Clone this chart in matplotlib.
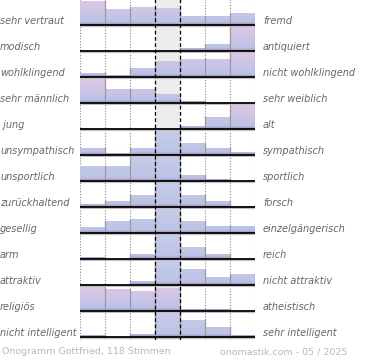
import numpy as np
import matplotlib.pyplot as plt
from matplotlib.patches import Polygon
from matplotlib.colors import to_rgb

# ---- Daten (Anteil der Stimmen je Spalte, in %) ----
left_labels = ["sehr vertraut", "modisch", "wohlklingend", "sehr männlich", " jung",
               "unsympathisch", "unsportlich", "zurückhaltend", "gesellig", "arm",
               "attraktiv", "religiös", "nicht intelligent"]
right_labels = ["fremd", "antiquiert", "nicht wohlklingend", "sehr weiblich", "alt",
                "sympathisch", "sportlich", "forsch", "einzelgängerisch", "reich",
                "nicht attraktiv", "atheistisch", "sehr intelligent"]
shares = [
    [25, 16, 18, 17, 9, 9, 12],
    [0, 0, 0.5, 0.5, 3, 7, 89],
    [4, 2, 9, 16, 18, 18, 33],
    [58, 14, 14, 9, 2, 0.5, 0],
    [0, 0, 0.5, 0, 3, 12, 84],
    [7.5, 2, 7.5, 60, 12, 7.5, 3.5],
    [15, 15, 30, 31, 6.5, 2, 0],
    [3.5, 6, 12.5, 58, 12.5, 6, 1.5],
    [6, 12.5, 14.5, 41, 12.5, 7, 7],
    [2.5, 0, 5, 75, 12, 5, 0],
    [0, 0, 4.5, 60, 16, 8.5, 11],
    [24.5, 22.5, 20.5, 23, 2.5, 2.5, 0],
    [2, 0, 3.5, 64, 17.5, 10.5, 2.5],
]
footer_left = "Onogramm Gottfried, 118 Stimmen"
footer_right = "onomastik.com - 05 / 2025"

CAP = 24.0          # Wert, der die volle Zeilenhöhe füllt
FULL = 24 / 26      # Anteil der Zeilenhöhe für den höchsten Balken
N_COLS = 7
Y_MAX = 13.12

c_strip = np.array(to_rgb("#a89bc8"))
c_bottom = np.array(to_rgb("#bcc3e5"))
c_pink = np.array(to_rgb("#ddc6e6"))
c_blue = np.array(to_rgb("#c6cce9"))


def gradient(top_color, n=96):
    t = np.linspace(1, 0, n)  # oben -> unten
    img = np.zeros((n, 1, 3))
    for k, tk in enumerate(t):
        if tk < 0.05:
            img[k, 0] = c_strip
        elif tk < 0.12:
            a = (tk - 0.05) / 0.07
            img[k, 0] = c_strip * (1 - a) + c_bottom * a
        else:
            a = (tk - 0.12) / 0.88
            img[k, 0] = c_bottom * (1 - a) + top_color * a
    return img


fig = plt.figure(figsize=(3.7, 3.6), dpi=100)
fig.patch.set_facecolor("white")
ax = fig.add_axes([80 / 370, (360 - (Y_MAX * 26 - 1)) / 360, 175 / 370, Y_MAX * 26 / 360])
ax.axis("off")

# neutrale Mittelspalte
ax.fill_between([3, 4], 0, Y_MAX, color="#ececec", lw=0, zorder=0)

# gepunktete Raster
for x in [0, 1, 2, 5, 6, 7]:
    ax.plot([x, x], [0, Y_MAX], color="#8a8a8a", lw=0.8, ls=(0, (1, 1.5)), zorder=1)

for i, vals in enumerate(shares):
    vals = np.array(vals, dtype=float)
    base = i + 1
    fr = np.minimum(vals, CAP) / CAP * FULL
    tops = base - fr

    verts = [(0, base)]
    for j in range(N_COLS):
        verts += [(j, tops[j]), (j + 1, tops[j])]
    verts.append((N_COLS, base))
    poly = Polygon(verts, closed=True, transform=ax.transData)

    pink_row = int(np.argmax(vals)) != 3
    img = gradient(c_pink if pink_row else c_blue)
    im = ax.imshow(img, extent=(0, N_COLS, base, base - FULL), aspect="auto",
                   origin="upper", interpolation="bilinear", zorder=2)
    im.set_clip_path(poly)

    # Trennkanten der Balken
    for j in range(1, N_COLS + 1):
        h = max(fr[j - 1], fr[j] if j < N_COLS else 0)
        if h > 0.02:
            ax.plot([j, j], [base, base - h], color="#9a9a9a", lw=0.9, zorder=3)

    ax.plot([0, N_COLS], [base + 0.05, base + 0.05], color="#c0c0c0", lw=0.8, zorder=4)
    ax.plot([0, N_COLS], [base, base], color="black", lw=1.3, zorder=5)

    ax.text(-80 / 25, base - 4.5 / 26, left_labels[i], ha="left", va="center",
            fontsize=7, style="italic", color="#666666")
    ax.text((263 - 80) / 25, base - 4.5 / 26, right_labels[i], ha="left", va="center",
            fontsize=7, style="italic", color="#666666")

# gestrichelte Linien um die Mitte
for x in [3, 4]:
    ax.plot([x, x], [0, Y_MAX], color="black", lw=0.9, ls=(0, (3, 2)), zorder=6)

ax.set_xlim(0, N_COLS)
ax.set_ylim(Y_MAX, 0)

fig.text(2 / 370, 8 / 360, footer_left, ha="left", va="center", fontsize=6.8, color="#b8b8b8")
fig.text(347 / 370, 8 / 360, footer_right, ha="right", va="center", fontsize=6.8, color="#b8b8b8")

fig.savefig("out.png", dpi=100)
